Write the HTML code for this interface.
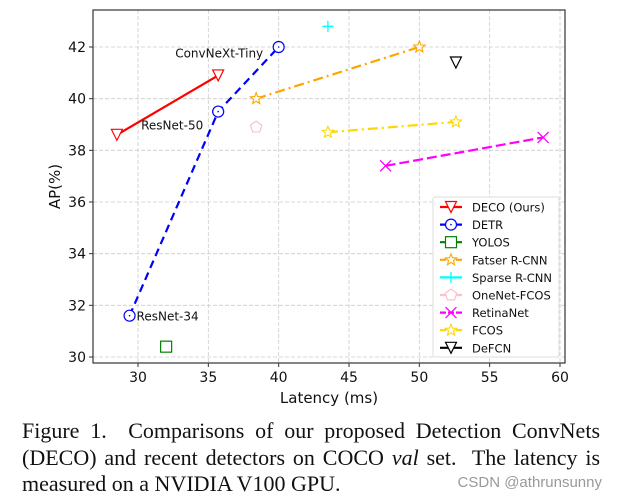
<!DOCTYPE html>
<html><head><meta charset="utf-8"><style>
body{margin:0;background:#fff;width:618px;height:504px;overflow:hidden;position:relative}
svg{position:absolute;left:0;top:0}
.cap{position:absolute;left:22px;width:578px;font-family:"Liberation Serif",serif;font-size:22px;line-height:26.5px;top:418px;color:#111}
.cap span{display:block;text-align:justify;text-align-last:justify;white-space:nowrap}
.cap span.last{text-align-last:left}
.wm{position:absolute;right:16px;top:474px;font-family:"Liberation Sans",sans-serif;font-size:15px;color:#999}
</style></head><body>
<svg id="chart" width="618" height="415" font-family="DejaVu Sans, sans-serif"></svg>
<div class="cap"><span>Figure 1.&nbsp; Comparisons of our proposed Detection ConvNets</span><span>(DECO) and recent detectors on COCO <i>val</i> set.&nbsp; The latency is</span><span class="last">measured on a NVIDIA V100 GPU.</span></div>
<div class="wm">CSDN @athrunsunny</div>
<script>
const xTicks=[30,35,40,45,50,55,60];
const yTicks=[30,32,34,36,38,40,42];
const seriesNames=["DECO (Ours)","DETR","YOLOS","Fatser R-CNN","Sparse R-CNN","OneNet-FCOS","RetinaNet","FCOS","DeFCN"];
const decoX=[28.5,35.7], decoY=[38.6,40.9];
const detrX=[29.4,35.7,40.0], detrY=[31.6,39.5,42.0];
const yolosX=[32.0], yolosY=[30.4];
const fasterX=[38.4,50.0], fasterY=[40.0,42.0];
const sparseX=[43.5], sparseY=[42.8];
const onenetX=[38.4], onenetY=[38.9];
const retinaX=[47.6,58.8], retinaY=[37.4,38.5];
const fcosX=[43.5,52.6], fcosY=[38.7,39.1];
const defcnX=[52.6], defcnY=[41.4];
const annotations=[["ConvNeXt-Tiny",35.7,40.9],["ResNet-50",35.7,39.5],["ResNet-34",29.4,31.6]];

const L=93,R=565,T=10,B=363;
const sx=v=>138+(v-30)*(560-138)/30;
const sy=v=>357-(v-30)*(357-47)/12;
const svg=document.getElementById('chart');
const NS='http://www.w3.org/2000/svg';
function mk(tag,attrs,parent){const e=document.createElementNS(NS,tag);for(const k in attrs)e.setAttribute(k,attrs[k]);(parent||svg).appendChild(e);return e;}

xTicks.forEach(t=>{
 const g=mk('line',{x1:sx(t),x2:sx(t),y1:T,y2:B,stroke:'#ccc','stroke-dasharray':'4,2','stroke-width':0.8});
 
 
 mk('line',{x1:sx(t),x2:sx(t),y1:B,y2:B+4,stroke:'#333'});
 const tx=mk('text',{x:sx(t),y:B+19,'text-anchor':'middle','font-size':14,fill:'#111'});
 tx.textContent=t;
 
 
});
yTicks.forEach(t=>{
 const g=mk('line',{x1:L,x2:R,y1:sy(t),y2:sy(t),stroke:'#ccc','stroke-dasharray':'4,2','stroke-width':0.8});
 
 
 mk('line',{x1:L-4,x2:L,y1:sy(t),y2:sy(t),stroke:'#333'});
 const tx=mk('text',{x:L-7,y:sy(t)+5,'text-anchor':'end','font-size':14,fill:'#111'});
 tx.textContent=t;
 
 
});
const frame=mk('rect',{x:L,y:T,width:R-L,height:B-T,fill:'none',stroke:'#333','stroke-width':1.2});


const xl=mk('text',{x:(L+R)/2,y:B+40,'text-anchor':'middle','font-size':15,fill:'#111'});
xl.textContent='Latency (ms)';


const yl=mk('text',{x:0,y:0,'text-anchor':'middle','font-size':15,fill:'#111',transform:`translate(60,${(T+B)/2}) rotate(-90)`});
yl.textContent='AP(%)';



function marker(type,x,y,color,p){
 const s=5.5;let e;
 if(type==='tri')e=mk('polygon',{points:`${x-s},${y-s} ${x+s},${y-s} ${x},${y+s}`,fill:'#fff',stroke:color,'stroke-width':1.2},p);
 else if(type==='circ'){e=mk('circle',{cx:x,cy:y,r:s,fill:'#fff',stroke:color,'stroke-width':1.2},p);mk('circle',{cx:x,cy:y,r:0.8,fill:color},p);}
 else if(type==='sq')e=mk('rect',{x:x-s,y:y-s,width:2*s,height:2*s,fill:'#fff',stroke:color,'stroke-width':1.2},p);
 else if(type==='star'){let pts=[];for(let i=0;i<10;i++){const r=i%2?2.6:6,a=-Math.PI/2+i*Math.PI/5;pts.push((x+r*Math.cos(a))+','+(y+r*Math.sin(a)));}e=mk('polygon',{points:pts.join(' '),fill:'#fff',stroke:color,'stroke-width':1.1},p);}
 else if(type==='plus'){e=mk('path',{d:`M${x-s} ${y}H${x+s}M${x} ${y-s}V${y+s}`,stroke:color,'stroke-width':1.3,fill:'none'},p);}
 else if(type==='pent'){let pts=[];for(let i=0;i<5;i++){const a=-Math.PI/2+i*2*Math.PI/5;pts.push((x+6*Math.cos(a))+','+(y+6*Math.sin(a)));}e=mk('polygon',{points:pts.join(' '),fill:'#fff',stroke:color,'stroke-width':1.2},p);}
 else if(type==='x'){e=mk('path',{d:`M${x-s} ${y-s}L${x+s} ${y+s}M${x-s} ${y+s}L${x+s} ${y-s}`,stroke:color,'stroke-width':1.3,fill:'none'},p);}
 return e;
}
const series=[
 [decoX,decoY,'red','tri',''],[detrX,detrY,'blue','circ','8,5'],[yolosX,yolosY,'green','sq','4,2'],
 [fasterX,fasterY,'orange','star','10,4,2,4'],[sparseX,sparseY,'cyan','plus',''],[onenetX,onenetY,'pink','pent',''],
 [retinaX,retinaY,'magenta','x','10,4'],[fcosX,fcosY,'gold','star','10,4,2,4'],[defcnX,defcnY,'black','tri','']];
series.forEach((s,i)=>{
 const g=mk('g',{});
 
 
 if(s[0].length>1){mk('polyline',{points:s[0].map((v,j)=>sx(v)+','+sy(s[1][j])).join(' '),fill:'none',stroke:s[2],'stroke-width':2.2,'stroke-dasharray':s[4]},g);}
 s[0].forEach((v,j)=>{const m=marker(s[3],sx(v),sy(s[1][j]),s[2],g);
  
  });
});
const offs=[[1,-18],[-46,18],[7,5]];
annotations.forEach((a,i)=>{
 const t=mk('text',{x:sx(a[1])+offs[i][0],y:sy(a[2])+offs[i][1],'text-anchor':i<2?'middle':'start','font-size':12,fill:'#111'});
 t.textContent=a[0];
 
 
});
const lg=mk('g',{});


mk('rect',{x:433,y:197,width:126,height:160,fill:'#fff',stroke:'#ddd',rx:2},lg);
series.forEach((s,i)=>{
 const y=207+i*17.6;
 const e=mk('g',{},lg);
 
 
 mk('line',{x1:440,x2:462,y1:y,y2:y,stroke:s[2],'stroke-width':2.2,'stroke-dasharray':s[4]?'6,2':''},e);
 marker(s[3],451,y,s[2],e);
 const t=mk('text',{x:472,y:y+4.5,'font-size':11.5,fill:'#111'},e);
 t.textContent=seriesNames[i];
});
</script>
</body></html>
